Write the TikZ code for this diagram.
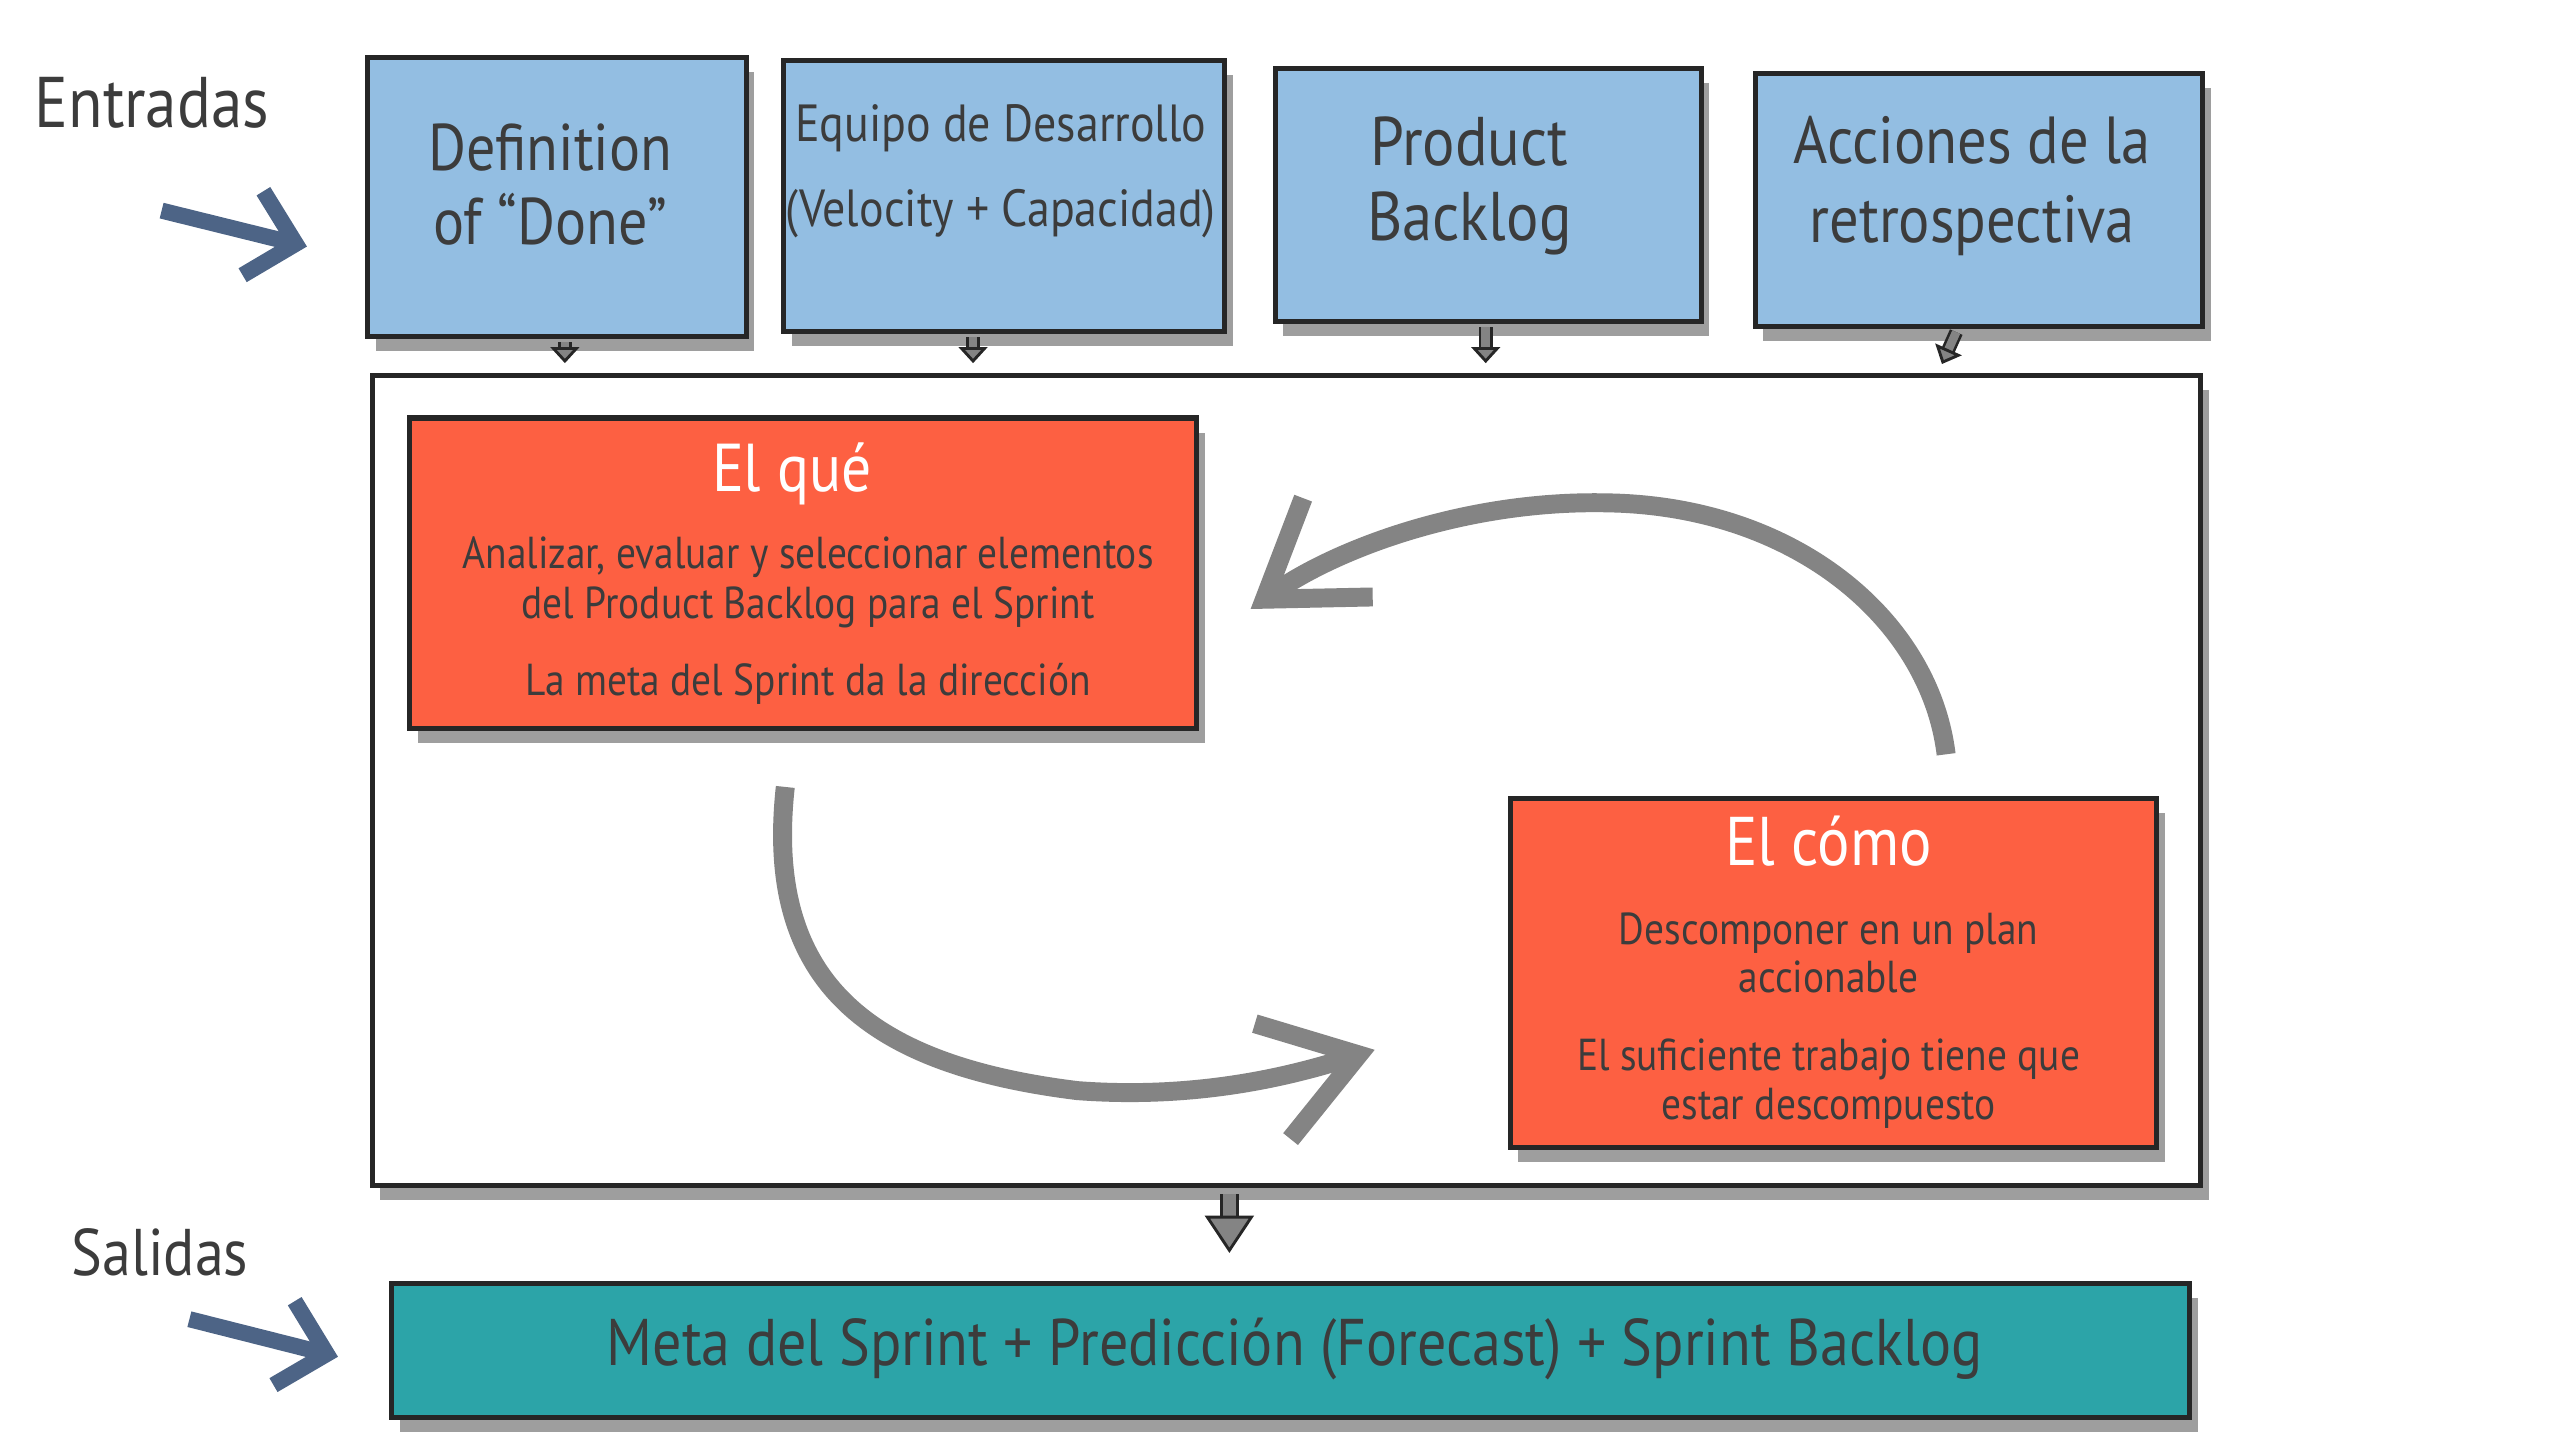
\documentclass[tikz,border=0pt]{standalone}
\usepackage{fontspec}
\setmainfont{PT Sans}[FakeStretch=0.88]
\usetikzlibrary{arrows.meta,shadows}

\definecolor{inblue}{HTML}{93BEE2}
\definecolor{boxred}{HTML}{FD6042}
\definecolor{outteal}{HTML}{2CA4A8}
\definecolor{ink}{HTML}{3C3C3C}
\definecolor{ribbongray}{HTML}{848484}
\definecolor{brush}{HTML}{4D6486}

\begin{document}
\begin{tikzpicture}[x=0.1mm,y=-0.1mm,
    cyclearrow/.style={draw=ribbongray,line width=3.3pt,-{Straight Barb[length=5.5mm,width=7.4mm]}}]

      \useasboundingbox (0,0) rectangle (1568,882);

      \begin{scope}[every node/.style={draw=black!85,line width=0.9pt,inner sep=0pt,
          drop shadow={shadow xshift=0.5mm,shadow yshift=-0.9mm,fill=black!38,opacity=1}}]
        \node[fill=inblue,minimum width=23.2mm,minimum height=17.1mm] (dod)   at (341,120.5) {};
        \node[fill=inblue,minimum width=27mm,minimum height=16.6mm]   (team)  at (615,120)   {};
        \node[fill=inblue,minimum width=26.1mm,minimum height=15.5mm] (pb)    at (911.5,119.5) {};
        \node[fill=inblue,minimum width=27.4mm,minimum height=15.5mm] (retro) at (1212,122.5) {};
        \node[fill=white,minimum width=112mm,minimum height=49.6mm]   (plan)  at (788,478)   {};
        \node[fill=boxred,minimum width=48.2mm,minimum height=19mm]   (what)  at (492,351)   {};
        \node[fill=boxred,minimum width=39.6mm,minimum height=21.4mm] (how)   at (1123,596)  {};
        \node[fill=outteal,minimum width=110.1mm,minimum height=8.2mm] (out)  at (790.5,827) {};
      \end{scope}

      \begin{scope}[every node/.style={text=ink,align=center}]
        \node[font=\fontsize{12.5}{15}\selectfont] (inlbl)  at (93,63)  {Entradas};
        \node[font=\fontsize{11.5}{15}\selectfont] (outlbl) at (98,767) {Salidas};
        \node[font=\fontsize{11.5}{12.8}\selectfont] (t1) at (337,113) {Definition\\of “Done”};
        \node[font=\fontsize{9.1}{14.8}\selectfont]  (t2) at (613,105) {Equipo de Desarrollo\\(Velocity + Capacidad)};
        \node[font=\fontsize{12}{13.1}\selectfont]   (t3) at (900,114) {Product\\Backlog};
        \node[font=\fontsize{11.6}{13.7}\selectfont] (t4) at (1208,114) {Acciones de la\\retrospectiva};
        \node[font=\fontsize{11.8}{15}\selectfont,text=white] (whattl) at (485,290) {El qué};
        \node[font=\fontsize{7.8}{8.8}\selectfont] (whatbd) at (495,380)
          {Analizar, evaluar y seleccionar elementos\\del Product Backlog para el Sprint\\[4.6pt]La meta del Sprint da la dirección};
        \node[font=\fontsize{12}{15}\selectfont,text=white] (howtl) at (1120,515) {El cómo};
        \node[font=\fontsize{7.8}{8.5}\selectfont] (howbd) at (1120,625)
          {Descomponer en un plan\\accionable\\[5.1pt]El suficiente trabajo tiene que\\estar descompuesto};
        \node[font=\fontsize{11.5}{14}\selectfont] (outtx) at (793,826)
          {Meta del Sprint + Predicción (Forecast) + Sprint Backlog};
      \end{scope}

      \coordinate (inA)   at (99,129);
      \coordinate (inB)   at (188,151);
      \coordinate (outA)  at (116,808);
      \coordinate (outB)  at (207,831);
      \coordinate (loopA) at (1192,462);
      \coordinate (loopB) at (766,373);
      \coordinate (loopC) at (481,482);
      \coordinate (loopD) at (842,643);

      \begin{scope}[every edge/.style={draw=brush,line width=2.8pt,-{Straight Barb[length=2.7mm,width=5.3mm]}}]
        \path (inA)  edge (inB);
        \path (outA) edge (outB);
      \end{scope}

      % small arrows into the planning box
      \begin{scope}[every edge/.style={draw=ribbongray,line width=1.5pt,shorten <=0.2mm,shorten >=0.6mm,
          -{Triangle[length=2.8pt,width=5pt,fill=ribbongray,color=black!85,line width=0.5pt]},
          preaction={draw=black!85,line width=2.4pt,-,shorten <=0.2mm,shorten >=4.4pt}}]
        \path (346,0 |- dod.south)    edge (346,0 |- plan.north);
        \path (596,0 |- team.south)   edge (596,0 |- plan.north);
        \path (910,0 |- pb.south)     edge (910,0 |- plan.north);
        \path (1199,0 |- retro.south) edge (1187,0 |- plan.north);
      \end{scope}

      \begin{scope}[every edge/.style={draw=ribbongray,line width=2.4pt,shorten <=0.4mm,shorten >=1.7mm,
          -{Triangle[length=6.5pt,width=8.5pt,fill=ribbongray,color=black!85,line width=0.5pt]},
          preaction={draw=black!85,line width=3.3pt,-,shorten <=0.4mm,shorten >=10.8pt}}]
        \path (753,0 |- plan.south) edge (753,0 |- out.north);
      \end{scope}

      \draw[cyclearrow] (loopA) .. controls (1182,380) and (1100,310) .. (985,308)
                                .. controls (900,306) and (820,335) .. (loopB);
      \draw[cyclearrow] (loopC) .. controls (468,600) and (530,652) .. (660,668)
                                .. controls (740,674) and (800,656) .. (loopD);

    \end{tikzpicture}
\end{document}
